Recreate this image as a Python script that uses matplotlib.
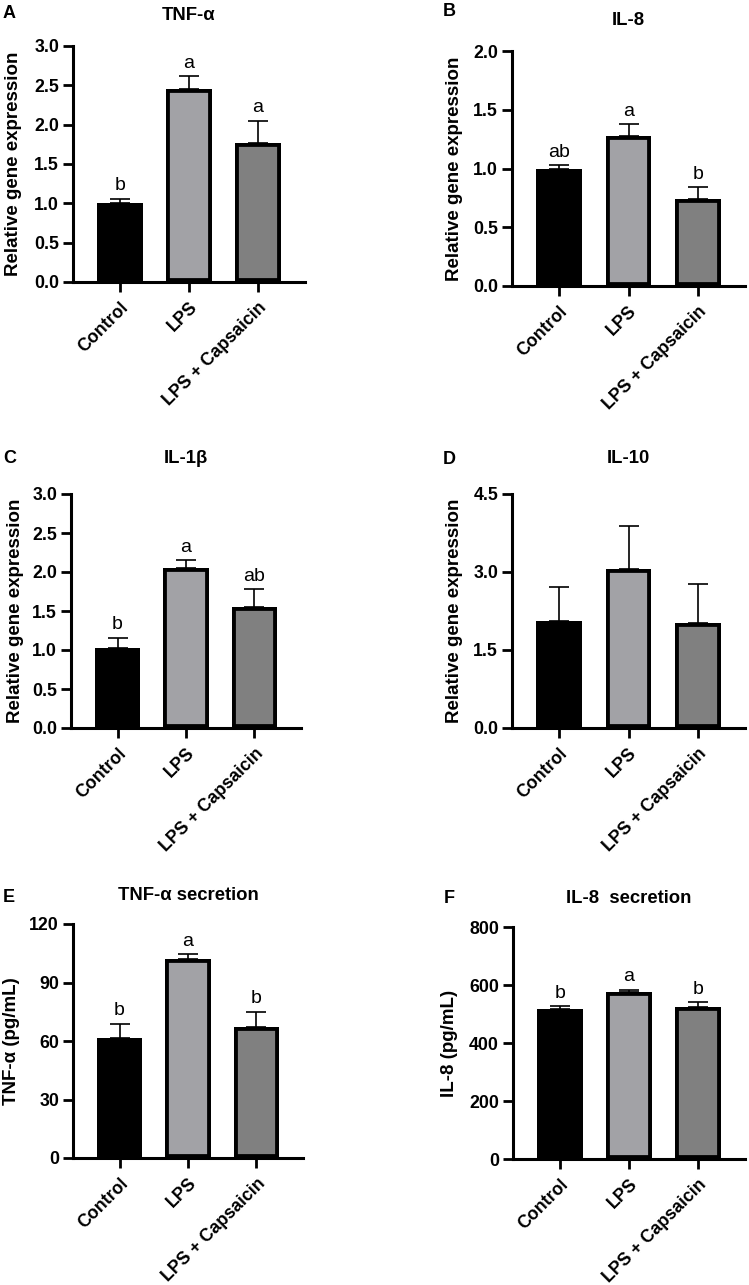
import matplotlib.pyplot as plt

plt.rcParams['font.family'] = ['Liberation Sans', 'DejaVu Sans']

W, H = 749, 1285

groups = ['Control', 'LPS', 'LPS + Capsaicin']
bar_colors = ['#000000', '#a2a2a6', '#808080']

# A - TNF-a gene expression
tnf_gene = [1.00, 2.45, 1.77]
tnf_gene_err = [0.06, 0.17, 0.28]
tnf_gene_sig = ['b', 'a', 'a']

# B - IL-8 gene expression
il8_gene = [1.00, 1.28, 0.74]
il8_gene_err = [0.03, 0.10, 0.10]
il8_gene_sig = ['ab', 'a', 'b']

# C - IL-1b gene expression
il1b_gene = [1.03, 2.05, 1.55]
il1b_gene_err = [0.13, 0.10, 0.23]
il1b_gene_sig = ['b', 'a', 'ab']

# D - IL-10 gene expression
il10_gene = [2.05, 3.05, 2.01]
il10_gene_err = [0.66, 0.83, 0.75]
il10_gene_sig = ['', '', '']

# E - TNF-a secretion (pg/mL)
tnf_sec = [61.4, 102.0, 67.2]
tnf_sec_err = [7.5, 2.6, 7.8]
tnf_sec_sig = ['b', 'a', 'b']

# F - IL-8 secretion (pg/mL)
il8_sec = [516, 577, 524]
il8_sec_err = [11, 7, 16]
il8_sec_sig = ['b', 'a', 'b']

ticks_A = [0, 0.5, 1.0, 1.5, 2.0, 2.5, 3.0]
ticks_B = [0, 0.5, 1.0, 1.5, 2.0]
ticks_D = [0, 1.5, 3.0, 4.5]
ticks_E = [0, 30, 60, 90, 120]
ticks_F = [0, 200, 400, 600, 800]


def rect(l, r, t, b):
    return [l / W, 1 - b / H, (r - l) / W, (b - t) / H]


def draw_panel(box, letter, letter_xy, title, title_pad, vals, errs, sig,
               ticks, fmt, ylabel, labelpad):
    ax = fig.add_axes(rect(*box))
    x = range(len(groups))
    ax.errorbar(x, vals, yerr=[[0] * len(errs), errs], fmt='none',
                ecolor='black', elinewidth=1.2, capsize=7.5, capthick=1.2,
                zorder=1)
    bars = ax.bar(x, vals, width=0.66, color=bar_colors, edgecolor='black',
                  linewidth=5.6, zorder=2)
    # keep the outline inside each bar, like GraphPad does
    for b in bars:
        b.set_clip_path(b)
    for i in x:
        if sig[i]:
            ax.annotate(sig[i], (i, vals[i] + errs[i]), xytext=(0, 6),
                        textcoords='offset points', ha='center',
                        va='baseline', fontsize=14)
    ax.set_xlim(-0.68, 2.68)
    ax.set_ylim(ticks[0], ticks[-1])
    ax.set_yticks(ticks)
    ax.set_yticklabels([fmt.format(t) for t in ticks])
    ax.set_xticks(list(x))
    ax.set_xticklabels(groups, rotation=45, ha='right',
                       rotation_mode='anchor', va='top')
    for s in ['top', 'right']:
        ax.spines[s].set_visible(False)
    for s in ['left', 'bottom']:
        ax.spines[s].set_linewidth(2.2)
    ax.tick_params(width=2, length=7, labelsize=12.8, pad=3)
    ax.tick_params(axis='x', pad=5)
    for lab in ax.get_xticklabels() + ax.get_yticklabels():
        lab.set_fontweight('bold')
    ax.set_ylabel(ylabel, fontsize=13.5, fontweight='bold', labelpad=labelpad)
    ax.set_title(title, fontsize=13.3, fontweight='bold', pad=title_pad)
    fig.text(letter_xy[0] / W, 1 - letter_xy[1] / H, letter, fontsize=13,
             fontweight='bold', ha='left', va='baseline')
    return ax


fig = plt.figure(figsize=(W / 100, H / 100), dpi=100)

draw_panel((73, 305, 46, 282), 'A', (3, 18), 'TNF-α', 19, tnf_gene,
           tnf_gene_err, tnf_gene_sig, ticks_A, '{:.1f}',
           'Relative gene expression', 9)
draw_panel((512, 745, 51, 286), 'B', (443, 16), 'IL-8', 19, il8_gene,
           il8_gene_err, il8_gene_sig, ticks_B, '{:.1f}',
           'Relative gene expression', 7)
draw_panel((71, 301, 494, 728), 'C', (3, 463), 'IL-1β', 22, il1b_gene,
           il1b_gene_err, il1b_gene_sig, ticks_A, '{:.1f}',
           'Relative gene expression', 6)
draw_panel((512, 745, 494, 728), 'D', (443, 464), 'IL-10', 22, il10_gene,
           il10_gene_err, il10_gene_sig, ticks_D, '{:.1f}',
           'Relative gene expression', 7)
draw_panel((73, 303, 924, 1158), 'E', (3, 902), 'TNF-α secretion', 17,
           tnf_sec, tnf_sec_err, tnf_sec_sig, ticks_E, '{:d}',
           'TNF-α (pg/mL)', 7)
draw_panel((513, 745, 927, 1159), 'F', (444, 903), 'IL-8  secretion', 17,
           il8_sec, il8_sec_err, il8_sec_sig, ticks_F, '{:d}',
           'IL-8 (pg/mL)', 8)

fig.savefig('out.png', dpi=100)
